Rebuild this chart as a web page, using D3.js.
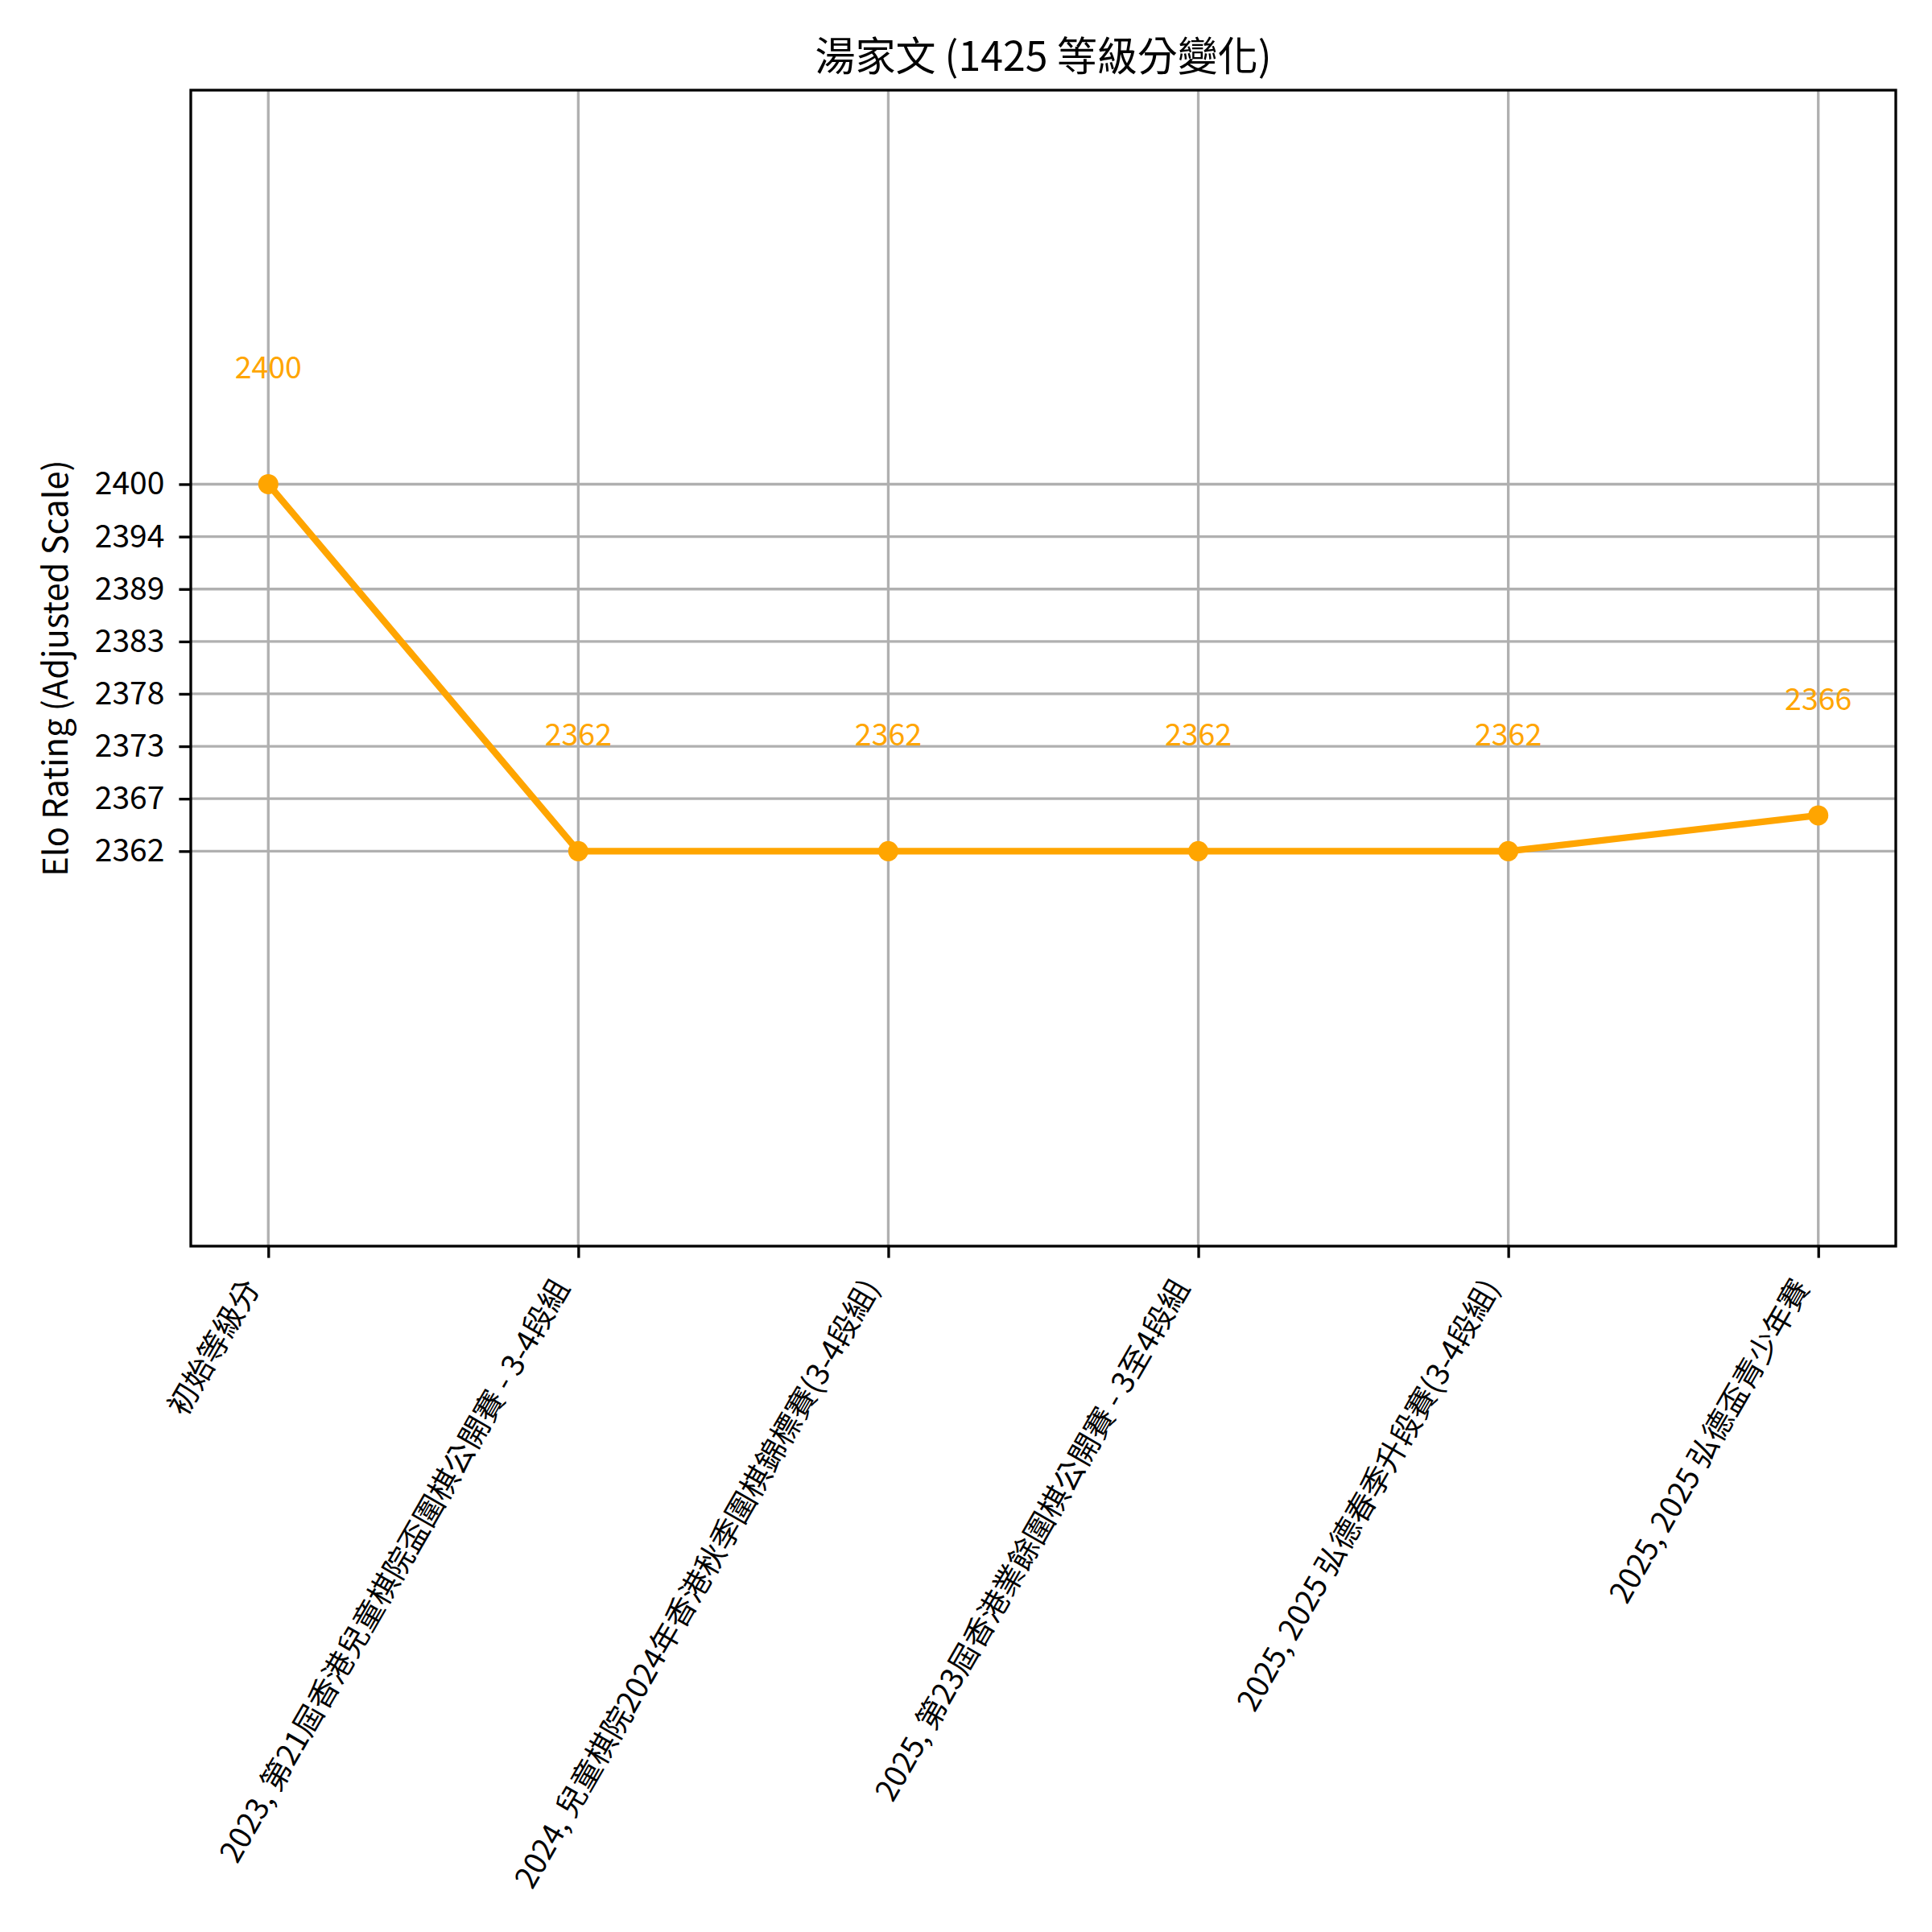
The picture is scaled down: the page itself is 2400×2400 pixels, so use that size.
<!DOCTYPE html>
<html>
<head>
<meta charset="utf-8">
<script src="https://cdn.jsdelivr.net/npm/d3@7"></script>
<style>
  html, body { margin: 0; padding: 0; background: #ffffff; }
  svg text { font-family: "Noto Sans CJK TC", "Noto Sans CJK SC", "Noto Sans", sans-serif; }
</style>
</head>
<body>
<svg id="chart" width="2400" height="2400"></svg>
<script>
// ---- data ----
const categories = [
  "初始等級分",
  "2023, 第21屆香港兒童棋院盃圍棋公開賽 - 3-4段組",
  "2024, 兒童棋院2024年香港秋季圍棋錦標賽(3-4段組)",
  "2025, 第23屆香港業餘圍棋公開賽 - 3至4段組",
  "2025, 2025 弘德春季升段賽(3-4段組)",
  "2025, 2025 弘德盃青少年賽"
];
const ratings = [2400, 2362, 2362, 2362, 2362, 2365.7];
const pointLabels = ["2400", "2362", "2362", "2362", "2362", "2366"];
const yTickValues = [2362, 2367.43, 2372.86, 2378.29, 2383.71, 2389.14, 2394.57, 2400];
const yTickLabels = ["2362", "2367", "2373", "2378", "2383", "2389", "2394", "2400"];
const titleText = "湯家文 (1425 等級分變化)";
const yAxisTitle = "Elo Rating (Adjusted Scale)";

// ---- layout ----
const plotLeft = 237, plotRight = 2355, plotTop = 112, plotBottom = 1548;
const lineColor = "#FFA500";
const gridColor = "#b0b0b0";
const labelPx = 41.67;   // 10pt
const smallPx = 37.5;    // 9pt

const svg = d3.select("#chart");
svg.append("rect").attr("width", 2400).attr("height", 2400).attr("fill", "#fff");

const x = d3.scaleLinear().domain([-0.25, categories.length - 1 + 0.25]).range([plotLeft, plotRight]);
const y = d3.scaleLinear().domain([2321.1, 2440.8]).range([plotBottom, plotTop]);

// grid
const grid = svg.append("g");
grid.selectAll("line.vx").data(categories).enter().append("line")
  .attr("x1", (d, i) => x(i)).attr("x2", (d, i) => x(i))
  .attr("y1", plotTop).attr("y2", plotBottom)
  .attr("stroke", gridColor).attr("stroke-width", 3.33);
grid.selectAll("line.hy").data(yTickValues).enter().append("line")
  .attr("x1", plotLeft).attr("x2", plotRight)
  .attr("y1", d => y(d)).attr("y2", d => y(d))
  .attr("stroke", gridColor).attr("stroke-width", 3.33);

// line + markers
const line = d3.line().x((d, i) => x(i)).y(d => y(d));
svg.append("path").datum(ratings)
  .attr("d", line).attr("fill", "none")
  .attr("stroke", lineColor).attr("stroke-width", 8.33)
  .attr("stroke-linejoin", "round").attr("stroke-linecap", "square");
svg.selectAll("circle.pt").data(ratings).enter().append("circle")
  .attr("cx", (d, i) => x(i)).attr("cy", d => y(d))
  .attr("r", 12.5).attr("fill", lineColor);

// annotations
svg.selectAll("text.ann").data(ratings).enter().append("text")
  .attr("x", (d, i) => x(i)).attr("y", d => y(d) - 131)
  .attr("text-anchor", "middle")
  .attr("font-size", smallPx).attr("fill", lineColor)
  .text((d, i) => pointLabels[i]);

// spines
svg.append("rect").attr("x", plotLeft).attr("y", plotTop)
  .attr("width", plotRight - plotLeft).attr("height", plotBottom - plotTop)
  .attr("fill", "none").attr("stroke", "#000").attr("stroke-width", 3.33);

// y axis
const yAxis = d3.axisLeft(y).tickValues(yTickValues)
  .tickFormat((d, i) => yTickLabels[i]).tickSize(14.6).tickPadding(18);
const gy = svg.append("g").attr("transform", `translate(${plotLeft},0)`).call(yAxis);
gy.select(".domain").remove();
gy.selectAll(".tick line").attr("stroke", "#000").attr("stroke-width", 3.33);
gy.selectAll(".tick text").attr("font-size", 39).attr("fill", "#000")
  .attr("font-family", "Noto Sans CJK TC");

// x axis ticks
const xAxis = d3.axisBottom(x).tickValues(d3.range(categories.length))
  .tickFormat(() => "").tickSize(14.6);
const gx = svg.append("g").attr("transform", `translate(0,${plotBottom})`).call(xAxis);
gx.select(".domain").remove();
gx.selectAll(".tick line").attr("stroke", "#000").attr("stroke-width", 3.33);

// rotated x labels: top-right corner of rotated bbox anchored below tick
const labelTop = plotBottom + 14.6 + 14.6;
const ang = -60 * Math.PI / 180;
categories.forEach((c, i) => {
  const t = svg.append("text")
    .attr("font-size", smallPx).attr("fill", "#000")
    .attr("text-anchor", "end")
    .text(c);
  const bb = t.node().getBBox();
  const corners = [[bb.x, bb.y], [bb.x + bb.width, bb.y], [bb.x, bb.y + bb.height], [bb.x + bb.width, bb.y + bb.height]]
    .map(([px, py]) => [px * Math.cos(ang) - py * Math.sin(ang), px * Math.sin(ang) + py * Math.cos(ang)]);
  const maxX = d3.max(corners, p => p[0]);
  const minY = d3.min(corners, p => p[1]);
  const tx = x(i) - maxX, ty = labelTop - minY;
  t.attr("transform", `translate(${tx},${ty}) rotate(-60)`);
});

// y axis title
svg.append("text")
  .attr("transform", `translate(84,${(plotTop + plotBottom) / 2}) rotate(-90)`)
  .attr("text-anchor", "middle").attr("font-size", labelPx).attr("fill", "#000")
  .text(yAxisTitle);

// title
svg.append("text")
  .attr("x", (plotLeft + plotRight) / 2).attr("y", 88)
  .attr("text-anchor", "middle").attr("font-size", 50).attr("fill", "#000")
  .text(titleText);
</script>
</body>
</html>
